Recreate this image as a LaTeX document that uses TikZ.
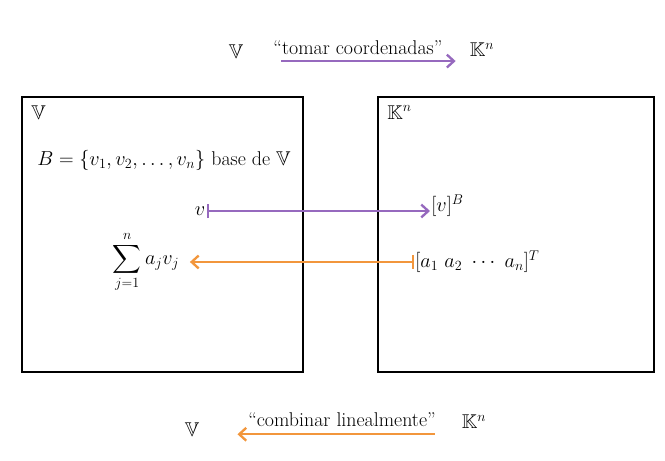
\documentclass[tikz,border=0pt]{standalone}
\usepackage{amsmath,amssymb}
\usepackage{tikz}
\usetikzlibrary{arrows.meta,positioning}
\definecolor{lila}{RGB}{150,105,190}
\definecolor{naranja}{RGB}{242,150,60}
\tikzset{>=Straight Barb}

\begin{document}
\begin{tikzpicture}[x=0.03cm, y=-0.03cm,
				txt/.style={inner sep=1pt, font=\fontsize{17}{20}\selectfont},
				espacio/.style={draw=black, line width=2.4pt},
				coord/.style={->, line width=2pt, draw=lila, arrows={-Straight Barb[length=6pt,width=11pt]}},
				comb/.style={->, line width=2pt, draw=naranja, arrows={-Straight Barb[length=6pt,width=11pt]}},
				mapsto/.style={line width=2pt, arrows={Bar[width=12pt]-Straight Barb[length=6pt,width=11pt]}}]
				
				\useasboundingbox (0,0) rectangle (665,461);
				
				% encabezado
				\node[txt] (Vtop) at (236,52) {$\mathbb{V}$};
				\node[txt] (tomar) at (358,48) {``tomar coordenadas''};
				\node[txt] (Ktop) at (482,50) {$\mathbb{K}^n$};
				\draw[coord] ([xshift=8pt,yshift=-4pt]tomar.south west) -- ([xshift=10pt,yshift=-4pt]tomar.south east);
				
				% los dos espacios
				\draw[espacio] (22,97) rectangle (303,372);
				\draw[espacio] (378,97) rectangle (654,372);
				\node[txt, anchor=north west] (V) at (30,104) {$\mathbb{V}$};
				\node[txt, anchor=north west] (K) at (386,104) {$\mathbb{K}^n$};
				
				\node[txt, anchor=west] (base) at (36,160) {$B=\{v_1,v_2,\dots,v_n\}$ base de $\mathbb{V}$};
				\node[txt] (v) at (200,211) {$v$};
				\node[txt, anchor=west] (vB) at (430,206) {$[v]^B$};
				\node[txt] (suma) at (146,262) {$\displaystyle\sum_{j=1}^{n} a_j v_j$};
				\node[txt, anchor=west] (vec) at (414,262) {$[a_1\ a_2\ \cdots\ a_n]^T$};
				
				\draw[mapsto, draw=lila] (v.east) -- (vB.west |- v.east);
				\draw[mapsto, draw=naranja] (vec.west) -- ([xshift=8pt]suma.east |- vec.west);
				
				% pie
				\node[txt] (Vbot) at (192,430) {$\mathbb{V}$};
				\node[txt] (combinar) at (342,420) {``combinar linealmente''};
				\node[txt] (Kbot) at (474,422) {$\mathbb{K}^n$};
				\draw[comb] ([xshift=-2pt,yshift=-5pt]combinar.south east) -- ([xshift=-8pt,yshift=-5pt]combinar.south west);
				
			\end{tikzpicture}
\end{document}
